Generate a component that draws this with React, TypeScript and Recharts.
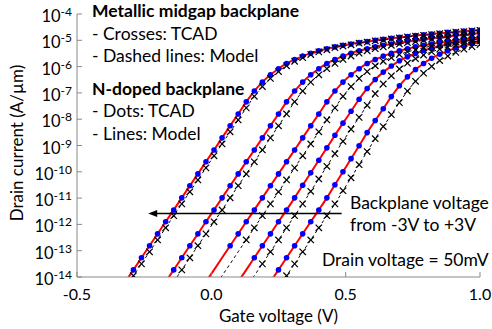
import { LineChart, Line, XAxis, YAxis, ReferenceLine } from "recharts";

// gate voltage sweep (V)
const vg = [
  -0.5, -0.47, -0.44, -0.41, -0.38, -0.35, -0.32, -0.29, -0.26, -0.23, -0.2, -0.17, -0.14, -0.11, -0.08, -0.05, -0.02,
  0.01, 0.04, 0.07, 0.1, 0.13, 0.16, 0.19, 0.22, 0.25, 0.28, 0.31, 0.34, 0.37, 0.4, 0.43, 0.46, 0.49, 0.52, 0.55,
  0.58, 0.61, 0.64, 0.67, 0.7, 0.73, 0.76, 0.79, 0.82, 0.85, 0.88, 0.91, 0.94, 0.97, 1.0,
];

// log10 of drain current (A/um), N-doped backplane, one array per backplane voltage
const nd1 = [
  null, null, null, null, null, null, -14.18, -13.73, -13.27, -12.81, -12.36, -11.9, -11.45, -10.99, -10.53, -10.08,
  -9.62, -9.17, -8.71, -8.25, -7.8, -7.34, -6.93, -6.59, -6.31, -6.08, -5.88, -5.73, -5.6, -5.49, -5.4, -5.32, -5.25,
  -5.19, -5.14, -5.09, -5.05, -5.0, -4.96, -4.92, -4.89, -4.86, -4.82, -4.79, -4.76, -4.73, -4.7, -4.68, -4.65, -4.63,
  -4.61,
];
const nd2 = [
  null, null, null, null, null, null, null, null, null, null, null, -14.18, -13.73, -13.27, -12.81, -12.36, -11.9,
  -11.45, -10.99, -10.53, -10.08, -9.62, -9.17, -8.71, -8.25, -7.8, -7.34, -6.93, -6.59, -6.31, -6.08, -5.88, -5.73,
  -5.6, -5.49, -5.4, -5.32, -5.25, -5.19, -5.14, -5.09, -5.05, -5.0, -4.96, -4.92, -4.89, -4.86, -4.82, -4.79, -4.76,
  -4.73,
];
const nd3 = [
  null, null, null, null, null, null, null, null, null, null, null, null, null, null, null, null, -14.18, -13.73,
  -13.27, -12.81, -12.36, -11.9, -11.45, -10.99, -10.53, -10.08, -9.62, -9.17, -8.71, -8.25, -7.8, -7.34, -6.93, -6.59,
  -6.31, -6.08, -5.88, -5.73, -5.6, -5.49, -5.4, -5.32, -5.25, -5.19, -5.14, -5.09, -5.05, -5.0, -4.96, -4.92, -4.89,
];
const nd4 = [
  null, null, null, null, null, null, null, null, null, null, null, null, null, null, null, null, null, null, null,
  null, -14.18, -13.73, -13.27, -12.81, -12.36, -11.9, -11.45, -10.99, -10.51, -10.04, -9.56, -9.09, -8.61, -8.15,
  -7.7, -7.24, -6.83, -6.49, -6.21, -5.98, -5.78, -5.63, -5.5, -5.39, -5.3, -5.22, -5.15, -5.09, -5.04, -4.99, -4.95,
];
const nd5 = [
  null, null, null, null, null, null, null, null, null, null, null, null, null, null, null, null, null, null, null,
  null, null, null, null, null, -14.18, -13.73, -13.27, -12.81, -12.36, -11.9, -11.45, -10.99, -10.49, -10.0, -9.5,
  -9.01, -8.51, -8.05, -7.6, -7.14, -6.73, -6.39, -6.11, -5.88, -5.68, -5.53, -5.4, -5.29, -5.2, -5.12, -5.05,
];

// log10 of drain current (A/um), metallic midgap backplane
const mm1 = [
  null, null, null, null, null, null, -14.41, -13.95, -13.5, -13.04, -12.59, -12.13, -11.67, -11.22, -10.76, -10.31,
  -9.85, -9.39, -8.94, -8.48, -8.03, -7.57, -7.13, -6.76, -6.45, -6.19, -5.97, -5.8, -5.66, -5.54, -5.44, -5.36, -5.28,
  -5.22, -5.17, -5.11, -5.07, -5.02, -4.99, -4.95, -4.91, -4.87, -4.84, -4.81, -4.78, -4.75, -4.72, -4.69, -4.67,
  -4.64, -4.62,
];
const mm2 = [
  null, null, null, null, null, null, null, null, null, null, null, null, -14.18, -13.73, -13.27, -12.81, -12.36,
  -11.9, -11.45, -10.99, -10.53, -10.08, -9.62, -9.17, -8.71, -8.25, -7.8, -7.34, -6.93, -6.59, -6.31, -6.08, -5.88,
  -5.73, -5.6, -5.49, -5.4, -5.32, -5.25, -5.19, -5.14, -5.09, -5.05, -5.0, -4.96, -4.92, -4.89, -4.86, -4.82, -4.79,
  -4.76,
];
const mm3 = [
  null, null, null, null, null, null, null, null, null, null, null, null, null, null, null, null, null, -14.41,
  -13.95, -13.5, -13.04, -12.59, -12.13, -11.67, -11.22, -10.76, -10.31, -9.85, -9.39, -8.94, -8.48, -8.03, -7.57,
  -7.13, -6.76, -6.45, -6.19, -5.97, -5.8, -5.66, -5.54, -5.44, -5.36, -5.28, -5.22, -5.17, -5.11, -5.07, -5.02,
  -4.99, -4.95,
];
const mm4 = [
  null, null, null, null, null, null, null, null, null, null, null, null, null, null, null, null, null, null, null,
  null, null, -14.41, -13.95, -13.5, -13.04, -12.59, -12.13, -11.67, -11.22, -10.74, -10.27, -9.79, -9.31, -8.84,
  -8.38, -7.93, -7.47, -7.03, -6.66, -6.35, -6.09, -5.87, -5.7, -5.56, -5.44, -5.34, -5.26, -5.18, -5.12, -5.07, -5.01,
];
const mm5 = [
  null, null, null, null, null, null, null, null, null, null, null, null, null, null, null, null, null, null, null,
  null, null, null, null, null, null, -14.41, -13.95, -13.5, -13.04, -12.59, -12.13, -11.67, -11.22, -10.72, -10.23,
  -9.73, -9.23, -8.74, -8.28, -7.83, -7.37, -6.93, -6.56, -6.25, -5.99, -5.77, -5.6, -5.46, -5.34, -5.24, -5.16,
];

// first gate voltage that has a TCAD point, per curve
const ndTcadFrom = [-0.29, -0.14, 0.07, 0.16, 0.25];
const mmTcadFrom = [-0.29, -0.11, 0.13, 0.19, 0.28];

const xTicks = [-0.5, 0, 0.5, 1.0];
const yTicks = [1e-14, 1e-13, 1e-12, 1e-11, 1e-10, 1e-9, 1e-8, 1e-7, 1e-6, 1e-5, 1e-4];

// arrow annotation
const arrowCurrent = 2.6e-12;
const arrowStart = 0.485;
const arrowEnd = -0.235;

const ndCurves = [nd1, nd2, nd3, nd4, nd5];
const mmCurves = [mm1, mm2, mm3, mm4, mm5];

const data = vg.map((v, i) => {
  const row: Record<string, number | null> = { vg: v };
  ndCurves.forEach((c, j) => {
    row[`nd${j}`] = c[i] == null ? null : Math.pow(10, c[i] as number);
  });
  mmCurves.forEach((c, j) => {
    row[`mm${j}`] = c[i] == null ? null : Math.pow(10, c[i] as number);
  });
  return row;
});

const AXIS = "#898989";
const FONT = "Lato, 'Open Sans', sans-serif";

const blueDot = (from: number) => (p: any) => {
  const { cx, cy, payload, index } = p;
  if (cx == null || cy == null || payload.vg < from - 1e-6) return <g key={index} />;
  return <circle key={index} cx={cx} cy={cy} r={2.8} fill="#0000FF" />;
};

const cross = (from: number) => (p: any) => {
  const { cx, cy, payload, index } = p;
  if (cx == null || cy == null || payload.vg < from - 1e-6) return <g key={index} />;
  const s = 3.2;
  return (
    <g key={index} stroke="#000" strokeWidth={1.2}>
      <line x1={cx - s} y1={cy - s} x2={cx + s} y2={cy + s} />
      <line x1={cx - s} y1={cy + s} x2={cx + s} y2={cy - s} />
    </g>
  );
};

const XTick = ({ x, y, payload }: any) => (
  <g>
    <line x1={x} y1={y} x2={x} y2={y - 5} stroke={AXIS} />
    <text x={x} y={y + 23} textAnchor="middle" fontFamily={FONT} fontSize={16} fill="#000">
      {Number(payload.value).toFixed(1)}
    </text>
  </g>
);

const YTick = ({ x, y, payload }: any) => {
  const e = Math.round(Math.log10(payload.value));
  return (
    <g>
      <line x1={x} y1={y} x2={x + 5} y2={y} stroke={AXIS} />
      <text x={x - 5} y={y + 8} textAnchor="end" fontFamily={FONT} fontSize={16.5} fill="#000">
        10
        <tspan dy={-6} fontSize={12}>
          {e}
        </tspan>
      </text>
    </g>
  );
};

const Arrow = (p: any) => {
  const { x1, y1, x2, y2 } = p;
  return (
    <g>
      <line x1={x1 + 8} y1={y1} x2={x2} y2={y2} stroke="#000" strokeWidth={1.3} />
      <polygon points={`${x1},${y1} ${x1 + 9},${y1 - 3.5} ${x1 + 9},${y1 + 3.5}`} fill="#000" />
    </g>
  );
};

const Note = ({ x, y, children, bold }: any) => (
  <text x={x} y={y} fontFamily={FONT} fontSize={17.5} fontWeight={bold ? 700 : 400} fill="#000">
    {children}
  </text>
);

export default function App() {
  return (
    <div style={{ position: "relative", width: 492, height: 329, background: "#fff" }}>
      <style>{`body{margin:0}`}</style>
      <LineChart width={492} height={329} data={data} margin={{ top: 14, right: 12, bottom: 0, left: 0 }}>
        <XAxis
          dataKey="vg"
          type="number"
          domain={[-0.5, 1.0]}
          ticks={xTicks}
          allowDataOverflow
          height={52}
          stroke={AXIS}
          tickLine={false}
          tickSize={0}
          tickMargin={0}
          tick={<XTick />}
        />
        <YAxis
          type="number"
          scale="log"
          domain={[1e-14, 1e-4]}
          ticks={yTicks}
          allowDataOverflow
          width={77}
          stroke={AXIS}
          tickLine={false}
          tickSize={0}
          tickMargin={0}
          tick={<YTick />}
          interval={0}
        />
        {ndCurves.map((_, j) => (
          <Line
            key={`ndl${j}`}
            dataKey={`nd${j}`}
            type="monotone"
            stroke="#FF0000"
            strokeWidth={2}
            dot={false}
            activeDot={false}
            isAnimationActive={false}
          />
        ))}
        {mmCurves.map((_, j) => (
          <Line
            key={`mml${j}`}
            dataKey={`mm${j}`}
            type="monotone"
            stroke="#000"
            strokeWidth={1}
            strokeDasharray="3 3"
            dot={false}
            activeDot={false}
            isAnimationActive={false}
          />
        ))}
        {ndCurves.map((_, j) => (
          <Line
            key={`ndd${j}`}
            dataKey={`nd${j}`}
            stroke="none"
            dot={blueDot(ndTcadFrom[j])}
            activeDot={false}
            isAnimationActive={false}
          />
        ))}
        {mmCurves.map((_, j) => (
          <Line
            key={`mmd${j}`}
            dataKey={`mm${j}`}
            stroke="none"
            dot={cross(mmTcadFrom[j])}
            activeDot={false}
            isAnimationActive={false}
          />
        ))}
        <ReferenceLine
          segment={[
            { x: arrowEnd, y: arrowCurrent },
            { x: arrowStart, y: arrowCurrent },
          ]}
          shape={Arrow}
        />
      </LineChart>
      <svg
        width={492}
        height={329}
        style={{ position: "absolute", left: 0, top: 0, pointerEvents: "none" }}
      >
        <Note x={92} y={17} bold>
          Metallic midgap backplane
        </Note>
        <Note x={92} y={40}>- Crosses: TCAD</Note>
        <Note x={92} y={62}>- Dashed lines: Model</Note>
        <Note x={92} y={95} bold>
          N-doped backplane
        </Note>
        <Note x={92} y={117}>- Dots: TCAD</Note>
        <Note x={92} y={140}>- Lines: Model</Note>
        <Note x={350} y={209}>Backplane voltage</Note>
        <Note x={350} y={231}>from -3V to +3V</Note>
        <Note x={322} y={266}>Drain voltage = 50mV</Note>
        <text x={278.5} y={322} textAnchor="middle" fontFamily={FONT} fontSize={17} fill="#000">
          Gate voltage (V)
        </text>
        <text
          transform="translate(22.5,143) rotate(-90)"
          textAnchor="middle"
          fontFamily={FONT}
          fontSize={17}
          fill="#000"
        >
          Drain current (A/µm)
        </text>
      </svg>
    </div>
  );
}
